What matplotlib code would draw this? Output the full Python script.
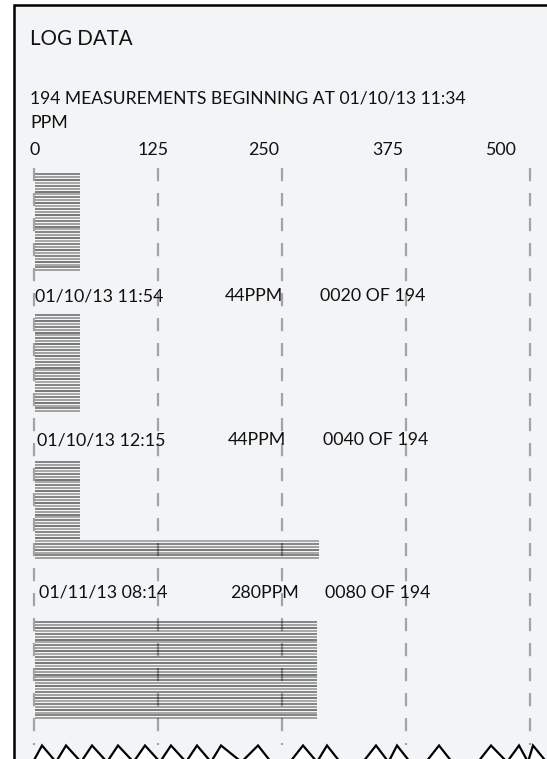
import matplotlib
matplotlib.use("Agg")
import matplotlib.pyplot as plt
import matplotlib.transforms as mtransforms
from matplotlib.patches import Rectangle, Polygon

plt.rcParams['font.family'] = ['Lato', 'DejaVu Sans']
plt.rcParams['lines.scale_dashes'] = False

# ---------------- data ----------------
title = "LOG DATA"
subtitle = "194 MEASUREMENTS BEGINNING AT 01/10/13 11:34"
unit_label = "PPM"
tick_values = [0, 125, 250, 375, 500]
tick_labels = ["0", "125", "250", "375", "500"]

block1_ppm = [46, 46, 46, 46, 46, 46, 46, 46, 46, 46, 46, 46, 46, 46, 46, 46, 46,
              46, 46, 46, 46, 46, 46, 46, 46, 46, 46, 46, 46, 46, 46, 46, 46, 46]
block2_ppm = [46, 46, 46, 46, 46, 46, 46, 46, 46, 46, 46, 46, 46, 46, 46, 46, 46,
              46, 46, 46, 46, 46, 46, 46, 46, 46, 46, 46, 46, 46, 46, 46, 46, 46]
block3_ppm = [46, 46, 46, 46, 46, 46, 46, 46, 46, 46, 46, 46, 46, 46, 46, 46, 46,
              46, 46, 46, 46, 46, 46, 46, 46, 46, 46, 287, 287, 287, 287, 287, 287, 287]
block4_ppm = [285, 285, 285, 285, 285, 285, 285, 285, 285, 285, 285, 285, 285, 285,
              285, 285, 285, 285, 285, 285, 285, 285, 285, 285, 285, 285, 285, 285,
              285, 285, 285, 285, 285, 285]

stamp_dates = ["01/10/13 11:54", "01/10/13 12:15", "01/11/13 08:14"]
stamp_ppm = ["44PPM", "44PPM", "280PPM"]
stamp_counts = ["0020 OF 194", "0040 OF 194", "0080 OF 194"]

# ---------------- layout ----------------
W, H = 547, 759
fig = plt.figure(figsize=(W / 100, H / 100), dpi=100)
fig.patch.set_facecolor('white')
ax = fig.add_axes([0, 0, 1, 1])
x0_px, x500_px = 34.0, 530.0
ppm_per_px = 500.0 / (x500_px - x0_px)
ax.set_xlim(-x0_px * ppm_per_px, (W - x0_px) * ppm_per_px)
ax.set_ylim(H, 0)
ax.axis('off')

pix = mtransforms.Affine2D().scale(1 / W, -1 / H).translate(0, 1) + fig.transFigure

# paper background + border
ax.add_patch(Rectangle((14, 5), 700, 900, transform=pix, facecolor='#f3f4f6',
                       edgecolor='black', lw=1.8, zorder=0))

def ptxt(x, y, s, size, **kw):
    ax.text(x, y, s, transform=pix, fontsize=size, ha='left', va='baseline',
            color='#111111', zorder=5, **kw)

BODY = 12.8
ptxt(30, 45, title, 14.8)
ptxt(30, 103, subtitle, 12.6)
ptxt(30, 128, unit_label, BODY)
tick_label_x = [30, 138, 248, 372, 485]
for tx, lab in zip(tick_label_x, tick_labels):
    ptxt(tx, 155, lab, BODY)

# records
spacing = 2.92
blocks = [(block1_ppm, 174), (block2_ppm, 315), (block3_ppm, 462), (block4_ppm, 622)]
shades = ['#666666', '#8a8a8a', '#555555', '#939393']
for vals, top in blocks:
    ys = [top + i * spacing for i in range(len(vals))]
    cols = [shades[i % len(shades)] for i in range(len(vals))]
    ax.hlines(ys, 1, vals, colors=cols, lw=1.1, zorder=2)

# dashed grid
ax.vlines(tick_values, 168, 745, colors='black', alpha=0.33, lw=1.6,
          linestyles=[(0, (9.5, 8.5))], zorder=3)

# timestamp rows
row_y = [301, 445, 598]
date_x = [35, 37, 39]
ppm_x = [225, 228, 230]
cnt_x = [320, 323, 325]
for i in range(3):
    ptxt(date_x[i], row_y[i], stamp_dates[i], BODY)
    ptxt(ppm_x[i], row_y[i], stamp_ppm[i], BODY)
    ptxt(cnt_x[i], row_y[i], stamp_counts[i], BODY)

# torn bottom edge
peaks = [42, 66, 92, 118, 145, 171, 197, 221, 258, 303, 327, 376, 397, 439, 491, 519, 533, 556]
bottom = 762
pts = [(14, bottom), (33, bottom)]
prev = None
for p in peaks:
    if prev is not None:
        if p - prev <= 40:
            pts.append(((p + prev) / 2 + 2, bottom))
        else:
            pts.append((prev + 13, bottom))
            pts.append((p - 13, bottom))
    pts.append((p, 745.5))
    prev = p
pts.append((prev + 13, bottom))
pts.append((600, bottom))
pts.append((600, 800))
pts.append((0, 800))
pts.append((0, bottom))
ax.add_patch(Polygon(pts, closed=True, transform=pix, facecolor='white',
                     edgecolor='black', lw=1.6, zorder=6, joinstyle='miter'))
ax.add_patch(Rectangle((0, 0), 12.5, 800, transform=pix, facecolor='white',
                       edgecolor='none', zorder=7))

fig.savefig('out.png', dpi=100, facecolor='white')
